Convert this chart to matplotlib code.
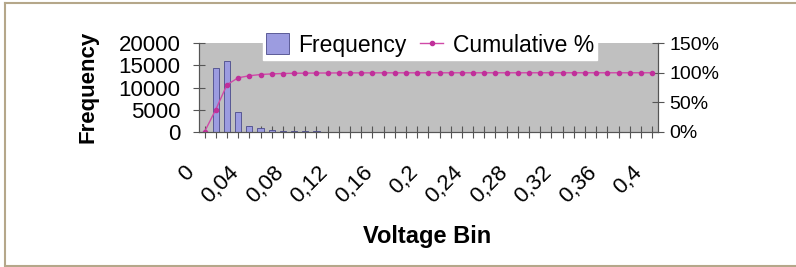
import numpy as np
import matplotlib.pyplot as plt
import matplotlib.transforms as mtrans
from matplotlib.lines import Line2D
from matplotlib.ticker import PercentFormatter

plt.rcParams['font.family'] = ['Liberation Sans', 'DejaVu Sans']

# voltage bins (0 .. 0.40 step 0.01) and counts per bin
bins = [round(0.01 * i, 2) for i in range(41)]
freq = [0, 14300, 16000, 4500, 1300, 800, 400, 250, 150, 100,
        60, 40, 30, 20, 15, 10, 10, 8, 6, 5,
        4, 4, 3, 3, 2, 2, 2, 1, 1, 1,
        1, 1, 1, 0, 0, 0, 0, 0, 0, 0, 0]
tick_labels = ['0', '0,04', '0,08', '0,12', '0,16', '0,2', '0,24', '0,28', '0,32', '0,36', '0,4']

freq = np.array(freq, dtype=float)
cum = np.cumsum(freq) / freq.sum()
x = np.arange(len(bins))

fig = plt.figure(figsize=(7.96, 2.67), dpi=100)
ax = fig.add_axes([199/796, 1-131.7/267, (657.7-199)/796, (131.7-43.3)/267])
ax.set_facecolor('#c0c0c0')

bars = ax.bar(x, freq, width=0.55, color='#9c9ce0', edgecolor='#4a4a8a', linewidth=0.6, label='Frequency', zorder=2)
ax.set_xlim(-0.5, len(bins) - 0.5)
ax.set_ylim(0, 20000)
ax.set_yticks([0, 5000, 10000, 15000, 20000])
ax.set_xticks(x, minor=True)
ax.set_xticks(x[::4])
ax.set_xticklabels(tick_labels, rotation=45, ha='right', rotation_mode='anchor')
ax.tick_params(axis='x', which='both', direction='inout', length=9, width=0.8, color='#555555', pad=17, labelsize=16)
ax.tick_params(axis='y', direction='inout', length=9, width=0.8, color='#555555', labelsize=16, pad=9)
for s in ['left', 'bottom', 'right']:
    ax.spines[s].set_color('#555555')
    ax.spines[s].set_linewidth(0.8)
ax.spines['top'].set_visible(False)

off = mtrans.ScaledTranslation(-21/100, 0, fig.dpi_scale_trans)
for lab in ax.get_xticklabels():
    lab.set_transform(lab.get_transform() + off)

ax2 = ax.twinx()
line, = ax2.plot(x, cum, color='#d04aa8', lw=1, marker='o', ms=3, mfc='#c0309a', mec='#c0309a', label='Cumulative %')
ax2.set_ylim(0, 1.5)
ax2.set_yticks([0, 0.5, 1.0, 1.5])
ax2.yaxis.set_major_formatter(PercentFormatter(1.0, decimals=0))
ax2.tick_params(axis='y', direction='inout', length=9, width=0.8, color='#555555', labelsize=14, pad=4)
for s in ['left', 'bottom', 'right']:
    ax2.spines[s].set_color('#555555')
    ax2.spines[s].set_linewidth(0.8)
ax2.spines['top'].set_visible(False)

fig.text(88/796, 1-87/267, 'Frequency', fontsize=16, fontweight='bold', rotation=90, ha='center', va='center')
fig.text(427/796, 1-236/267, 'Voltage Bin', fontsize=17, fontweight='bold', ha='center', va='center')

leg = fig.legend(handles=[bars, line], loc='center', bbox_to_anchor=(430/796, 1-45/267), ncol=2,
                 frameon=True, fancybox=False, edgecolor='white', facecolor='white', framealpha=1,
                 fontsize=16.5, handlelength=1.0, handleheight=1.0, handletextpad=0.4, columnspacing=0.6, borderpad=0.15)

# page border
bc = '#b5a78a'
fig.add_artist(Line2D([5/796, 5/796], [3/267, 1-3/267], color=bc, lw=1.5))
fig.add_artist(Line2D([5/796, 1], [1-3/267, 1-3/267], color=bc, lw=1.5))
fig.add_artist(Line2D([5/796, 1], [1.5/267, 1.5/267], color=bc, lw=1.5))

fig.savefig('out.png', dpi=100)
